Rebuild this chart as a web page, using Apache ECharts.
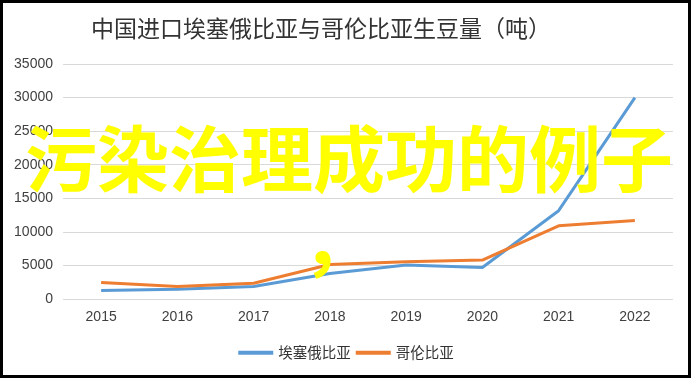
<!DOCTYPE html>
<html>
<head>
<meta charset="utf-8">
<script src="https://cdn.jsdelivr.net/npm/echarts@6/dist/echarts.min.js"></script>
<style>
  html, body { margin: 0; padding: 0; background: #fff; }
  #chart { width: 692px; height: 378px; }
</style>
</head>
<body>
<div id="chart"></div>
<script>
  // 数据
  var years = ['2015', '2016', '2017', '2018', '2019', '2020', '2021', '2022'];
  var ethiopia = [1250, 1450, 1850, 3800, 5050, 4700, 13150, 30000];
  var colombia = [2450, 1850, 2350, 5150, 5550, 5800, 10900, 11700];
  var seriesNames = ['埃塞俄比亚', '哥伦比亚'];

  var myChart = echarts.init(document.getElementById('chart'));
  var option = {
    animation: false,
    title: {
      text: '中国进口埃塞俄比亚与哥伦比亚生豆量（吨）',
      left: 316,
      top: 12,
      textAlign: 'center',
      textStyle: {
        fontFamily: 'Noto Sans CJK SC',
        fontSize: 23,
        fontWeight: 'normal',
        color: '#333'
      }
    },
    grid: { left: 63, right: 19, top: 64, bottom: 79 },
    legend: {
      data: seriesNames,
      bottom: 13,
      left: 'center',
      icon: 'rect',
      itemWidth: 35,
      itemHeight: 4,
      itemGap: 5,
      textStyle: { fontFamily: 'Noto Sans CJK SC', fontSize: 14.5, color: '#333' }
    },
    xAxis: {
      type: 'category',
      data: years,
      boundaryGap: true,
      axisLine: { show: false },
      axisTick: { show: false },
      axisLabel: { margin: 11, fontFamily: 'Liberation Sans', fontSize: 14, color: '#404040' }
    },
    yAxis: {
      type: 'value',
      min: 0,
      max: 35000,
      interval: 5000,
      axisLabel: {
        margin: 10,
        fontFamily: 'Liberation Sans',
        fontSize: 14,
        color: '#404040',
        formatter: function (v) { return String(v); }
      },
      splitLine: { lineStyle: { color: '#d9d9d9', width: 1 } }
    },
    series: [
      {
        name: seriesNames[0],
        type: 'line',
        data: ethiopia,
        symbol: 'none',
        lineStyle: { color: '#5b9bd5', width: 3 },
        itemStyle: { color: '#5b9bd5' }
      },
      {
        name: seriesNames[1],
        type: 'line',
        data: colombia,
        symbol: 'none',
        lineStyle: { color: '#ed7d31', width: 3 },
        itemStyle: { color: '#ed7d31' }
      }
    ],
    graphic: [
      {
        type: 'rect',
        shape: { x: 1.5, y: 1.5, width: 688, height: 375 },
        style: { fill: null, stroke: '#000', lineWidth: 3 },
        z: 100
      },
      {
        type: 'text',
        left: 25,
        top: 123,
        style: {
          text: '污染治理成功的例子',
          fill: '#ffff00',
          font: 'bold 72px "Noto Sans CJK SC"'
        },
        z: 100
      },
      {
        type: 'text',
        left: 302,
        top: 204,
        style: {
          text: '，',
          fill: '#ffff00',
          font: 'bold 73px "Noto Sans CJK SC"'
        },
        z: 100
      }
    ]
  };
  myChart.setOption(option);
</script>
</body>
</html>
